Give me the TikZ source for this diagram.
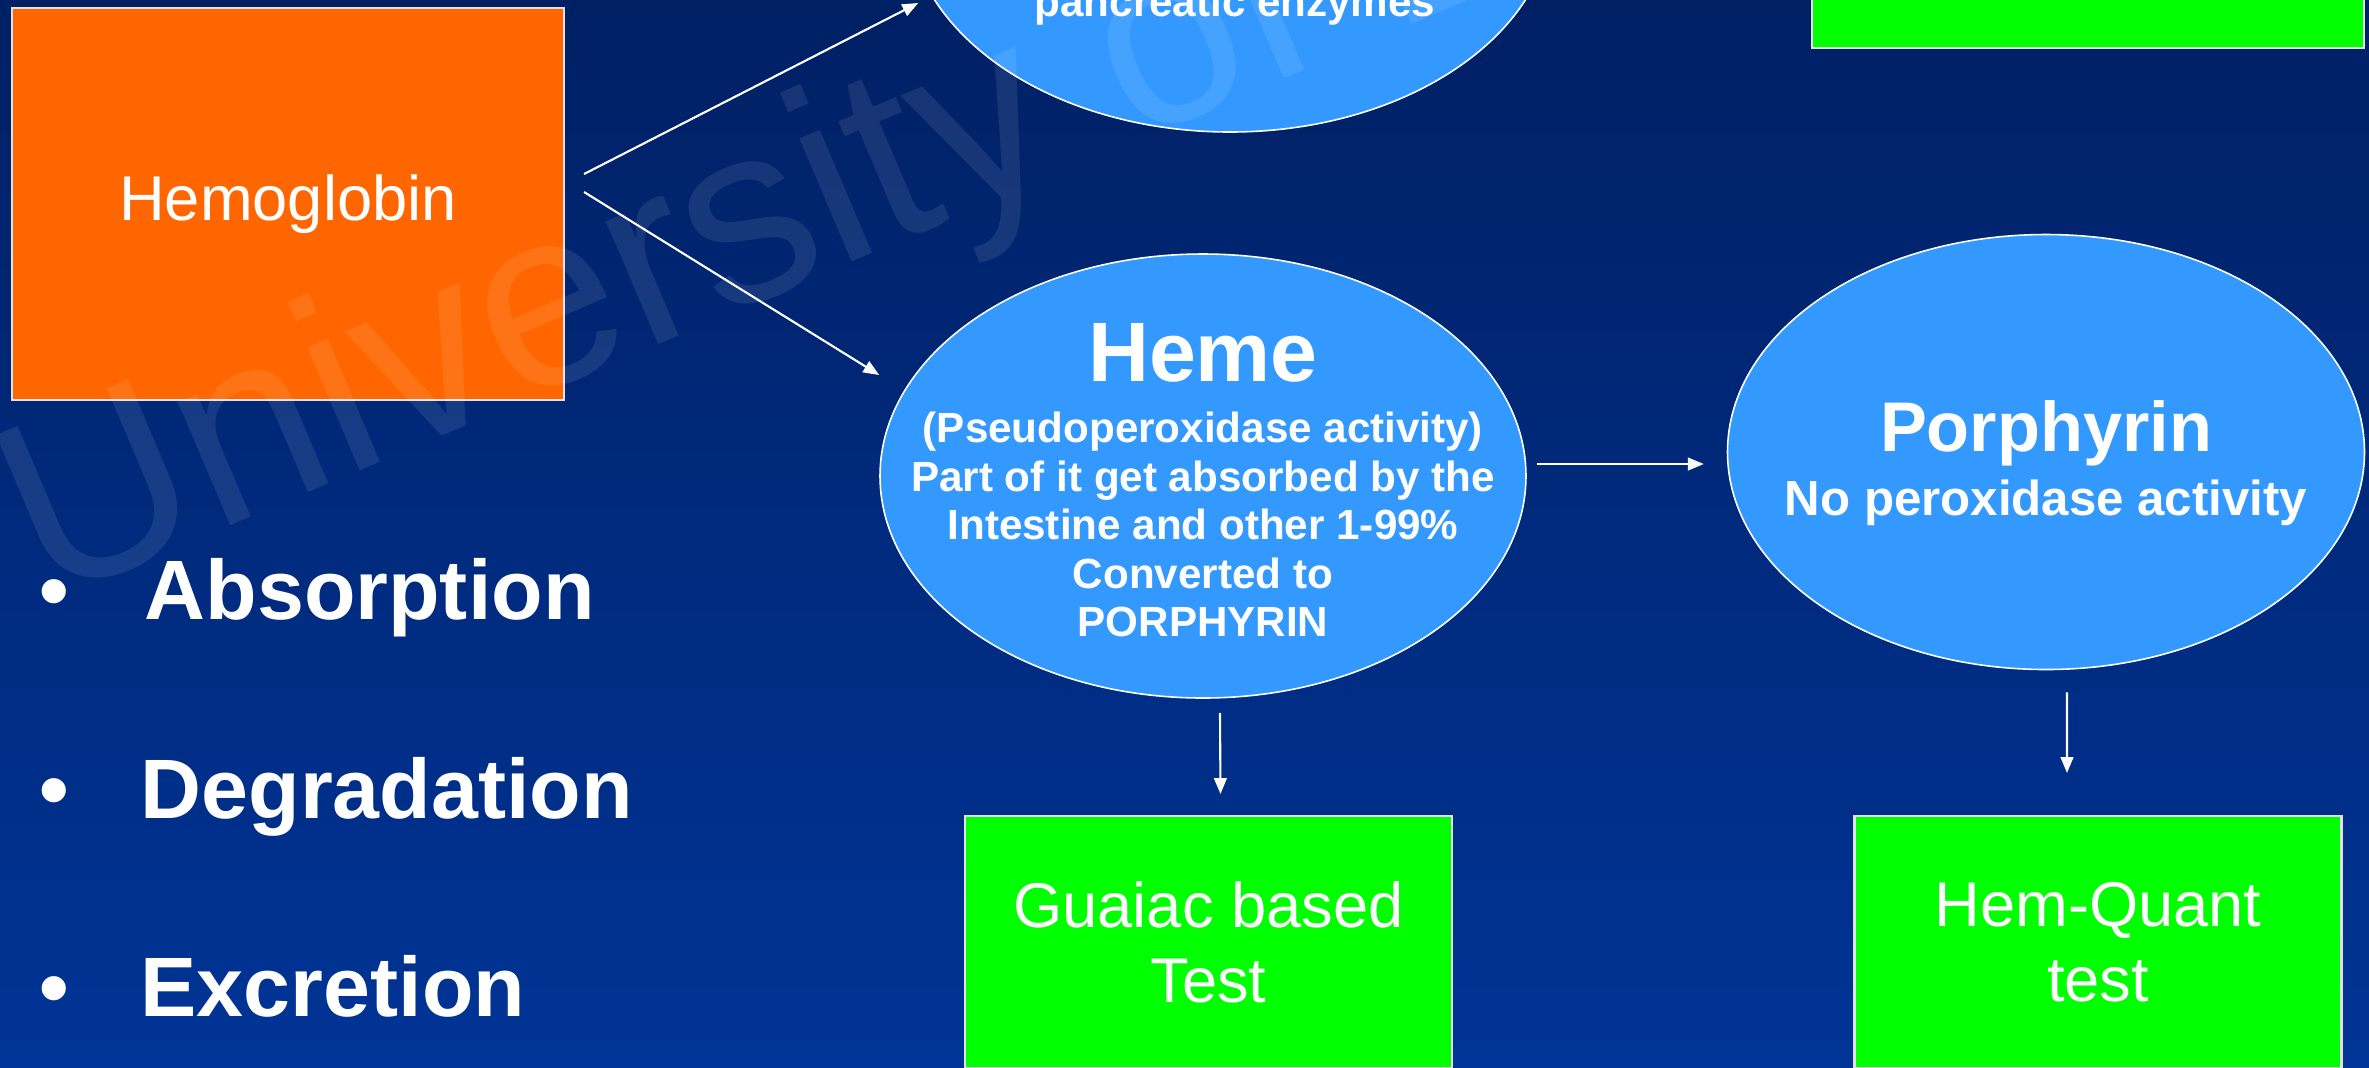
\documentclass[tikz,border=0pt]{standalone}
\usepackage{fontspec}
\setmainfont{Liberation Sans}
\usetikzlibrary{shapes.geometric,arrows.meta,positioning,calc}
\definecolor{bgtop}{RGB}{0,32,100}
\definecolor{bgbottom}{RGB}{0,52,150}
\definecolor{hborange}{RGB}{255,102,0}
\definecolor{ovalblue}{RGB}{51,153,255}
\definecolor{testgreen}{RGB}{0,255,0}
\definecolor{edgegray}{RGB}{225,225,230}

\begin{document}
\begin{tikzpicture}[
  oval/.style={ellipse, draw=white, line width=0.45pt, fill=ovalblue, inner sep=0pt},
  ovaltxt/.style={text=white, inner sep=0pt, align=center},
  testbox/.style={rectangle, draw=edgegray, line width=0.6pt, fill=testgreen,
                  text=white, inner sep=0pt, align=center,
                  minimum width=4.87cm, minimum height=2.52cm,
                  font=\fontsize{18}{21.3}\selectfont},
  arr/.style={-{Triangle[length=4.5pt,width=3.6pt]}, white, line width=0.6pt},
  bul/.style={anchor=base west, inner sep=0pt, text=white,
              font=\fontsize{24}{28}\selectfont\bfseries}
]
  % Fondo
  \shade[top color=bgtop, bottom color=bgbottom] (0,0) rectangle (23.69,-10.67);
  \useasboundingbox (0,0) rectangle (23.69,-10.67);
  \clip (0,0) rectangle (23.69,-10.67);

  % Hemoglobina
  \node[draw=edgegray, line width=0.6pt, fill=hborange, text=white,
        minimum width=5.52cm, minimum height=3.92cm, inner sep=0pt,
        font=\fontsize{18}{21}\selectfont] (hb) at (2.88,-2.04) {Hemoglobin};

  % Ovalos
  \node[oval, minimum width=6.46cm, minimum height=4.44cm] (enz) at (12.30,0.90) {};
  \node[ovaltxt, anchor=base, font=\fontsize{12}{14}\selectfont\bfseries]
        (enztxt) at (12.35,-0.16) {pancreatic enzymes};

  \node[oval, minimum width=6.46cm, minimum height=4.44cm] (heme) at (12.03,-4.76) {};
  \node[ovaltxt, font=\fontsize{12}{13.8}\selectfont\bfseries]
        (hemetxt) at ($(heme)+(0,-0.04)$)
        {{\fontsize{24}{28}\selectfont Heme}\\[3.7pt]
         (Pseudoperoxidase activity)\\
         Part of it get absorbed by the\\
         Intestine and other 1-99\%\\
         Converted to\\
         PORPHYRIN};

  \node[oval, minimum width=6.37cm, minimum height=4.35cm] (por) at (20.46,-4.52) {};
  \node[ovaltxt, font=\fontsize{14}{16}\selectfont\bfseries]
        (portxt) at ($(por)+(0,-0.11)$)
        {{\fontsize{20}{24}\selectfont Porphyrin}\\[2.2pt]
         No peroxidase activity};

  % Cajas verdes
  \node[testbox, minimum width=5.52cm] (topbox) at (20.88,0.78) {};
  \node[testbox] (guaiac) at (12.085,-9.42) {Guaiac based\\Test};
  \node[testbox] (hq) at (20.98,-9.42) {Hem-Quant\\test};

  % Lista
  \node[bul] (dot1) at (0.39,-6.19) {\textbullet};
  \node[bul] (absorb) at (1.44,-6.19) {Absorption};
  \node[bul] (dot2) at (0.39,-8.18) {\textbullet};
  \node[bul] (degrade) at (1.40,-8.18) {Degradation};
  \node[bul] (dot3) at (0.39,-10.16) {\textbullet};
  \node[bul] (excrete) at (1.40,-10.16) {Excretion};

  % Flechas
  \draw[arr] ($(hb.east)+(0.19,0.30)$) -- ($(enz.west)+(0.12,-0.93)$);
  \draw[arr] ($(hb.east)+(0.19,0.12)$) -- ($(heme.west)+(0,1.01)$);
  \draw[arr] ($(heme.east)+(0.10,0.12)$) -- ($(por.west)+(-0.23,-0.12)$);
  \draw[arr] ($(heme.south)+(0.17,-0.14)$) -- ($(guaiac.north)+(0.12,0.21)$);
  \draw[arr] ($(por.south)+(0.21,-0.22)$) -- ($(hq.north)+(-0.31,0.42)$);

  % Marca de agua
  \node[rotate=23, anchor=base west, inner sep=0pt, text=white, opacity=0.09,
        font=\fontsize{72}{78}\selectfont] (wmark) at (0.46,-6.04) {University of L};
\end{tikzpicture}
\end{document}
